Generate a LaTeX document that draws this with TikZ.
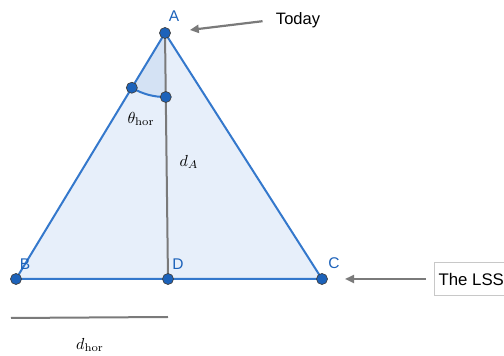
\documentclass[tikz,border=0pt]{standalone}
\usepackage[no-math]{fontspec}
\setmainfont{Liberation Sans}
\usetikzlibrary{positioning,arrows.meta,calc}
\definecolor{geoLine}{RGB}{52,120,204}
\definecolor{geoFill}{RGB}{231,239,250}
\definecolor{geoSector}{RGB}{212,226,244}
\definecolor{geoPoint}{RGB}{28,98,186}
\definecolor{geoGray}{RGB}{122,122,122}
\definecolor{geoBox}{RGB}{200,200,200}

\begin{document}
\begin{tikzpicture}[x=1pt, y=1pt,
      pt/.style={circle, fill=geoPoint, draw=black!75, line width=0.7pt,
                 minimum size=11pt, inner sep=0pt},
      ptlbl/.style={font=\fontsize{15.5}{18}\selectfont\color{geoPoint}},
      txt/.style={font=\fontsize{16.5}{19}\selectfont, text=black},
      mth/.style={scale=1.6, transform shape},
      pointer/.style={-{Triangle[length=9pt, width=8pt]}, geoGray, line width=2.2pt},
      side/.style={geoLine, line width=2pt, line join=round}
    ]
    \clip (0,0) rectangle (504,356);

    \coordinate (A) at (165,323);
    \coordinate (B) at (16,77);
    \coordinate (C) at (322,77);
    \coordinate (D) at (168,77);
    \coordinate (E) at ($(A)!64pt!(B)$);
    \coordinate (F) at ($(A)!64pt!(D)$);

    % triangle and sector
    \fill[geoFill] (A) -- (B) -- (C) -- cycle;
    \fill[geoSector] (A) -- (E) arc[start angle=238.8, end angle=270.7, radius=64] -- cycle;
    \draw[geoLine, line width=2pt] (E) arc[start angle=238.8, end angle=270.7, radius=64];
    \draw[geoGray, line width=2pt] (A) -- (D);
    \draw[side] (A) -- (B) -- (C) -- cycle;

    % points
    \foreach \p in {A,B,C,D,E,F}
      \node[pt] (p\p) at (\p) {};

    \node[ptlbl] (lA) at (174,340) {A};
    \node[ptlbl] (lB) at (25,92) {B};
    \node[ptlbl] (lD) at (178,92) {D};
    \node[ptlbl] (lC) at (334,93) {C};

    \node[mth] (theta) at (141,237) {$\theta_{\mathrm{hor}}$};
    \node[mth] (dA) at (189,194) {$d_A$};

    % annotations
    \node[txt] (today) at (298,336) {Today};
    \draw[pointer, shorten <=10pt, shorten >=25pt] (today.west) -- (A);

    \node[txt, font=\fontsize{16.8}{20}\selectfont, draw=geoBox, line width=1.2pt,
          fill=white, anchor=west, minimum height=33pt, inner xsep=4pt]
          (lss) at (434,77) {The LSS\hspace{30pt}};
    \draw[pointer, shorten <=8pt, shorten >=23pt] (lss.west) -- (C);

    % horizontal scale
    \coordinate (h1) at (11,38);
    \coordinate (h2) at (168,39);
    \draw[geoGray, line width=2pt] (h1) -- (h2);
    \node[mth] (dhor) at (90,11) {$d_{\mathrm{hor}}$};
\end{tikzpicture}
\end{document}
